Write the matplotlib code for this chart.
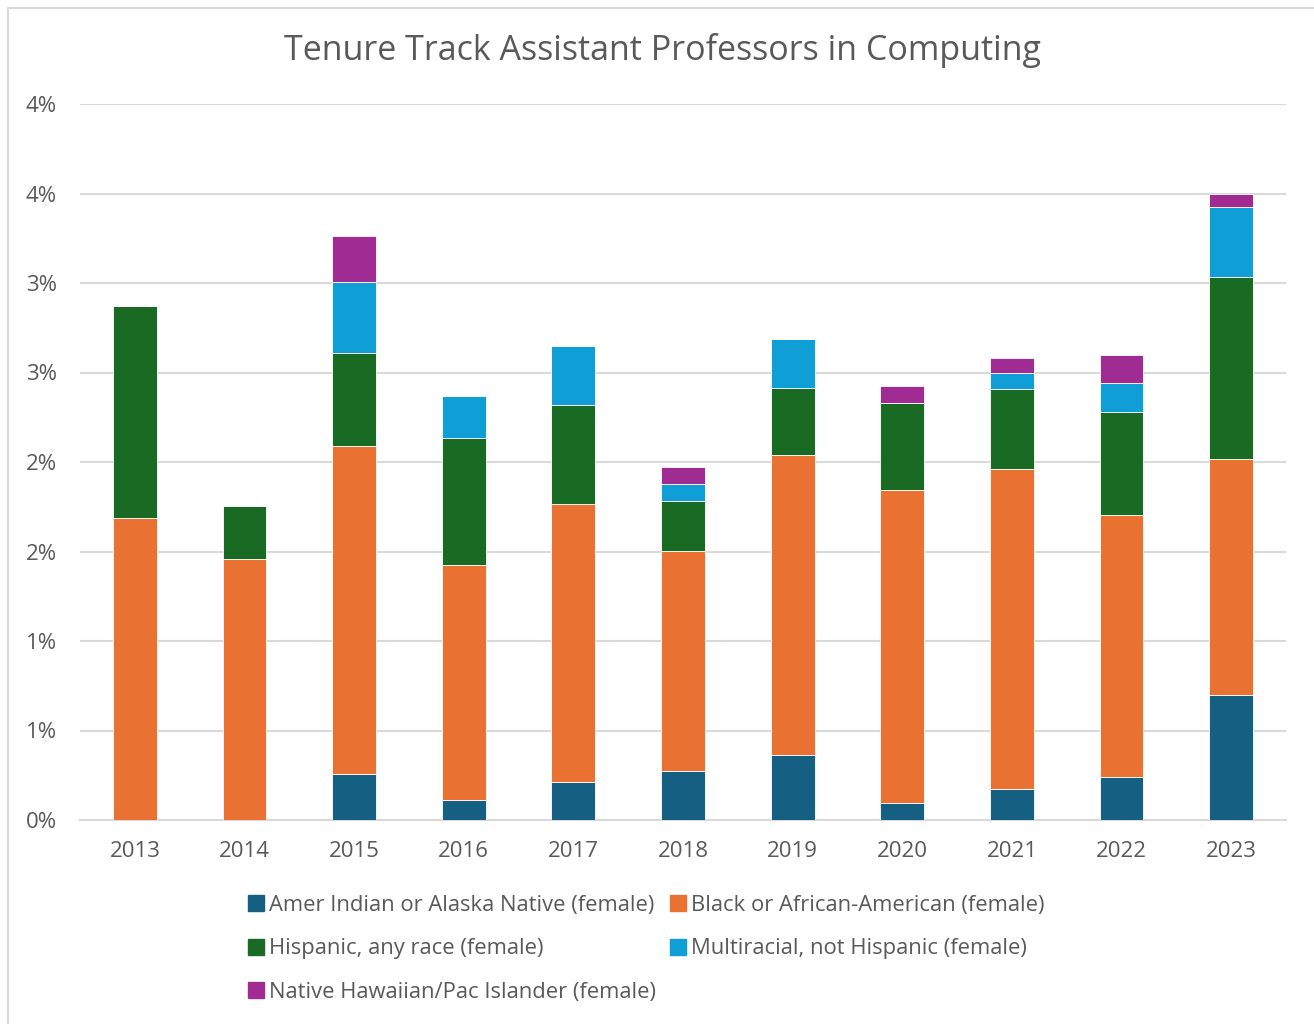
import math
import matplotlib
matplotlib.use("Agg")
import matplotlib.pyplot as plt
from matplotlib.lines import Line2D
from matplotlib.ticker import FuncFormatter, MultipleLocator

plt.rcParams['font.family'] = ['Open Sans', 'DejaVu Sans']

years = ["2013", "2014", "2015", "2016", "2017", "2018", "2019", "2020", "2021", "2022", "2023"]

# share of tenure-track assistant professors, in percent
amer_indian = [0.0, 0.0, 0.257, 0.112, 0.212, 0.274, 0.363, 0.095, 0.173, 0.240, 0.698]
black = [1.687, 1.458, 1.832, 1.313, 1.553, 1.229, 1.676, 1.749, 1.788, 1.464, 1.319]
hispanic = [1.185, 0.296, 0.520, 0.709, 0.553, 0.279, 0.374, 0.486, 0.447, 0.575, 1.017]
multiracial = [0.0, 0.0, 0.397, 0.235, 0.330, 0.095, 0.274, 0.0, 0.089, 0.162, 0.391]
pac_islander = [0.0, 0.0, 0.257, 0.0, 0.0, 0.095, 0.0, 0.095, 0.084, 0.156, 0.073]

series = [
    ("Amer Indian or Alaska Native (female)", amer_indian, "#156082"),
    ("Black or African-American (female)", black, "#E97132"),
    ("Hispanic, any race (female)", hispanic, "#196B24"),
    ("Multiracial, not Hispanic (female)", multiracial, "#0F9ED5"),
    ("Native Hawaiian/Pac Islander (female)", pac_islander, "#A02B93"),
]

W, H = 1314, 1024
fig = plt.figure(figsize=(W / 100, H / 100), dpi=100)
ax = fig.add_axes([80 / W, (H - 820) / H, (1286 - 80) / W, (820 - 104) / H])

x = list(range(len(years)))
bottom = [0.0] * len(years)
handles = []
for name, vals, color in series:
    ax.bar(x, vals, width=0.4, bottom=bottom, color=color,
           edgecolor="white", linewidth=0.6, zorder=3)
    bottom = [b + v for b, v in zip(bottom, vals)]
    handles.append(Line2D([], [], marker="s", linestyle="none", markersize=11,
                          markerfacecolor=color, markeredgecolor=color, label=name))

ax.set_xlim(-0.5, len(years) - 0.5)
ax.set_ylim(0, 4.0)
ax.yaxis.set_major_locator(MultipleLocator(0.5))
ax.yaxis.set_major_formatter(FuncFormatter(lambda v, p: f"{math.floor(v + 0.5)}%"))
ax.set_xticks(x)
ax.set_xticklabels(years)
ax.grid(axis="y", color="#d9d9d9", linewidth=1.5, zorder=0)
ax.set_axisbelow(True)
for s in ("top", "right", "left"):
    ax.spines[s].set_visible(False)
ax.spines["bottom"].set_color("#d9d9d9")
ax.spines["bottom"].set_linewidth(1.5)
ax.tick_params(axis="both", length=0, labelsize=16, colors="#595959")
ax.tick_params(axis="x", pad=15)
ax.tick_params(axis="y", pad=16.5)

fig.text(662 / W, 1 - 50 / H, "Tenure Track Assistant Professors in Computing",
         ha="center", va="center", fontsize=24.5, color="#595959")

# legend laid out row by row across two columns
order = [0, 2, 4, 1, 3]
leg = fig.legend([handles[i] for i in order], [series[i][0] for i in order],
                 ncol=2, loc="upper left", bbox_to_anchor=(234 / W, 1 - 884 / H),
                 frameon=False, fontsize=15.8, handletextpad=0.1, labelspacing=1.02,
                 columnspacing=0.5, handlelength=1.0, borderpad=0)
for t in leg.get_texts():
    t.set_color("#595959")

# chart border
fig.add_artist(Line2D([7.5 / W, 7.5 / W], [0, 1 - 7.5 / H], transform=fig.transFigure,
                      color="#d9d9d9", linewidth=1.5))
fig.add_artist(Line2D([7.5 / W, 1], [1 - 7.5 / H, 1 - 7.5 / H], transform=fig.transFigure,
                      color="#d9d9d9", linewidth=1.5))

fig.savefig("out.png", dpi=100, facecolor="white")
